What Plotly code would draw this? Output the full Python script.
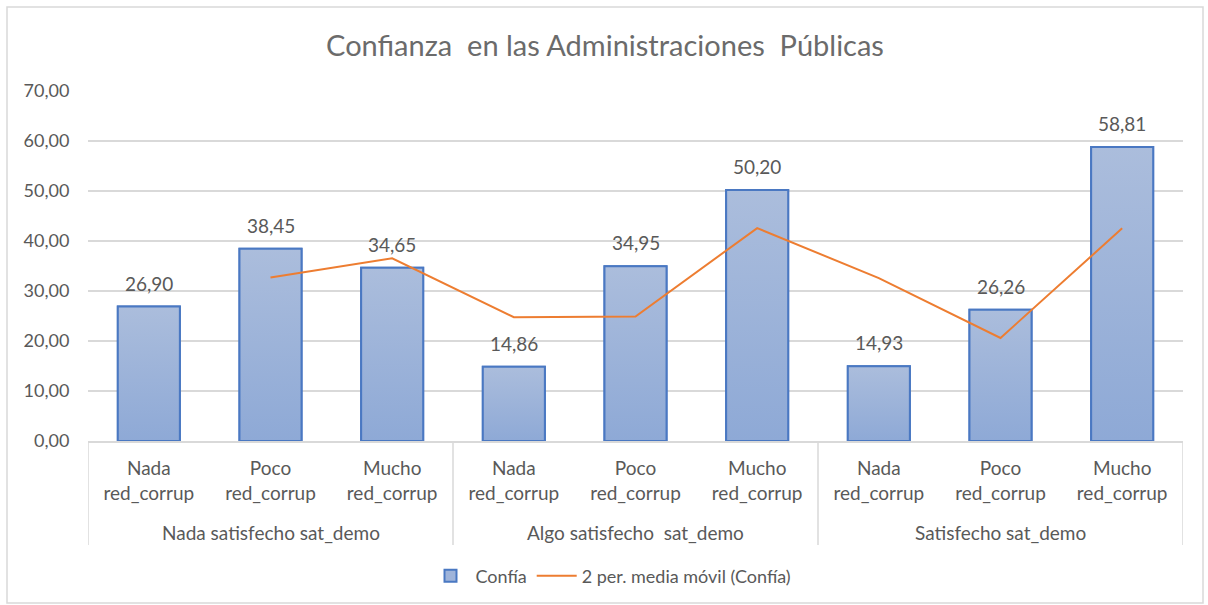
import plotly.graph_objects as go

# Data
groups = ["Nada satisfecho sat_demo", "Algo satisfecho  sat_demo", "Satisfecho sat_demo"]
levels = ["Nada<br>red_corrup", "Poco<br>red_corrup", "Mucho<br>red_corrup"]
confia = [26.90, 38.45, 34.65, 14.86, 34.95, 50.20, 14.93, 26.26, 58.81]
media_movil = [None, 32.68, 36.55, 24.76, 24.91, 42.58, 32.57, 20.60, 42.54]
y_ticks = [0, 10, 20, 30, 40, 50, 60, 70]

n = len(confia)
pos = list(range(n))
tick_text = [levels[i % 3] for i in pos]
half = 0.255

GRAY_TXT = "#595959"
GRID = "#d9d9d9"
BAR_EDGE = "#4a78c2"
ORANGE = "#ed7d31"
FONT = "Lato, 'Open Sans', sans-serif"

L, R, T, B = 88, 25, 91, 164
PW = 1208 - L - R
PH = 605 - T - B


def px_x(x):
    return (x - L) / PW


def px_y(y):
    return (T + PH - y) / PH


fig = go.Figure()

# Bar trace (legend entry and base fill)
fig.add_trace(go.Bar(
    x=pos, y=confia, width=2 * half, name="Confía",
    marker=dict(color="#9fb4da", line=dict(color=BAR_EDGE, width=2)),
    hoverinfo="skip",
))

# Vertical gradient fill and outline on each bar
for i, v in zip(pos, confia):
    xs = [i - half, i - half, i + half, i + half, i - half]
    ys = [0, v, v, 0, 0]
    fig.add_trace(go.Scatter(
        x=xs, y=ys, mode="lines", fill="toself", showlegend=False,
        line=dict(width=0),
        fillgradient=dict(type="vertical",
                          colorscale=[[0, "#8ea9d6"], [1, "#abbddc"]]),
        hoverinfo="skip",
    ))
    fig.add_trace(go.Scatter(
        x=xs, y=ys, mode="lines", showlegend=False,
        line=dict(color=BAR_EDGE, width=2), hoverinfo="skip",
    ))

# Moving average line
fig.add_trace(go.Scatter(
    x=pos, y=media_movil, mode="lines", name="2 per. media móvil (Confía)",
    line=dict(color=ORANGE, width=2), connectgaps=False,
))

# Value labels above the bars
for i, v in zip(pos, confia):
    fig.add_annotation(
        x=i, y=v, text=f"{v:.2f}".replace(".", ","), showarrow=False,
        yanchor="bottom", yshift=10,
        font=dict(family=FONT, size=19, color=GRAY_TXT),
    )

# Group labels under the category labels
for g, name in enumerate(groups):
    fig.add_annotation(
        x=g * 3 + 1, y=px_y(532), yref="paper", text=name, showarrow=False,
        yanchor="middle", font=dict(family=FONT, size=19, color=GRAY_TXT),
    )

# Dividers between groups
for b in [-0.5, 2.5, 5.5, 8.5]:
    fig.add_shape(type="line", xref="x", yref="paper", x0=b, x1=b,
                  y0=0, y1=px_y(545), line=dict(color=GRID, width=1.5))

# Chart border
fig.add_shape(type="rect", xref="paper", yref="paper",
              x0=px_x(7), x1=px_x(1203), y0=px_y(7), y1=px_y(603),
              line=dict(color=GRID, width=1.5))

fig.update_layout(
    width=1208, height=605,
    margin=dict(l=L, r=R, t=T, b=B, autoexpand=False),
    paper_bgcolor="white", plot_bgcolor="white",
    separators=",.",
    title=dict(text="Confianza  en las Administraciones  Públicas",
               x=605 / 1208, xanchor="center", xref="container",
               y=1 - 46 / 605, yanchor="middle", yref="container",
               font=dict(family=FONT, size=29, color="#6b6b6b")),
    xaxis=dict(range=[-0.5, 8.5], tickvals=pos, ticktext=tick_text,
               tickangle=0,
               showgrid=False, zeroline=False, showline=True,
               linecolor=GRID, linewidth=2, ticks="outside", ticklen=9,
               tickcolor="rgba(0,0,0,0)",
               tickfont=dict(family=FONT, size=19, color=GRAY_TXT)),
    yaxis=dict(range=[0, 70], tickvals=y_ticks, tickformat=".2f",
               showgrid=True, gridcolor=GRID, gridwidth=1.5,
               zeroline=False, showline=False,
               ticks="outside", ticklen=14, tickcolor="rgba(0,0,0,0)",
               tickfont=dict(family=FONT, size=18, color=GRAY_TXT)),
    legend=dict(orientation="h", x=px_x(611), xref="paper",
                xanchor="center", y=px_y(576), yanchor="middle",
                font=dict(family=FONT, size=18, color=GRAY_TXT),
                itemwidth=40, tracegroupgap=0),
    showlegend=True,
)

fig.write_html("out.html")
